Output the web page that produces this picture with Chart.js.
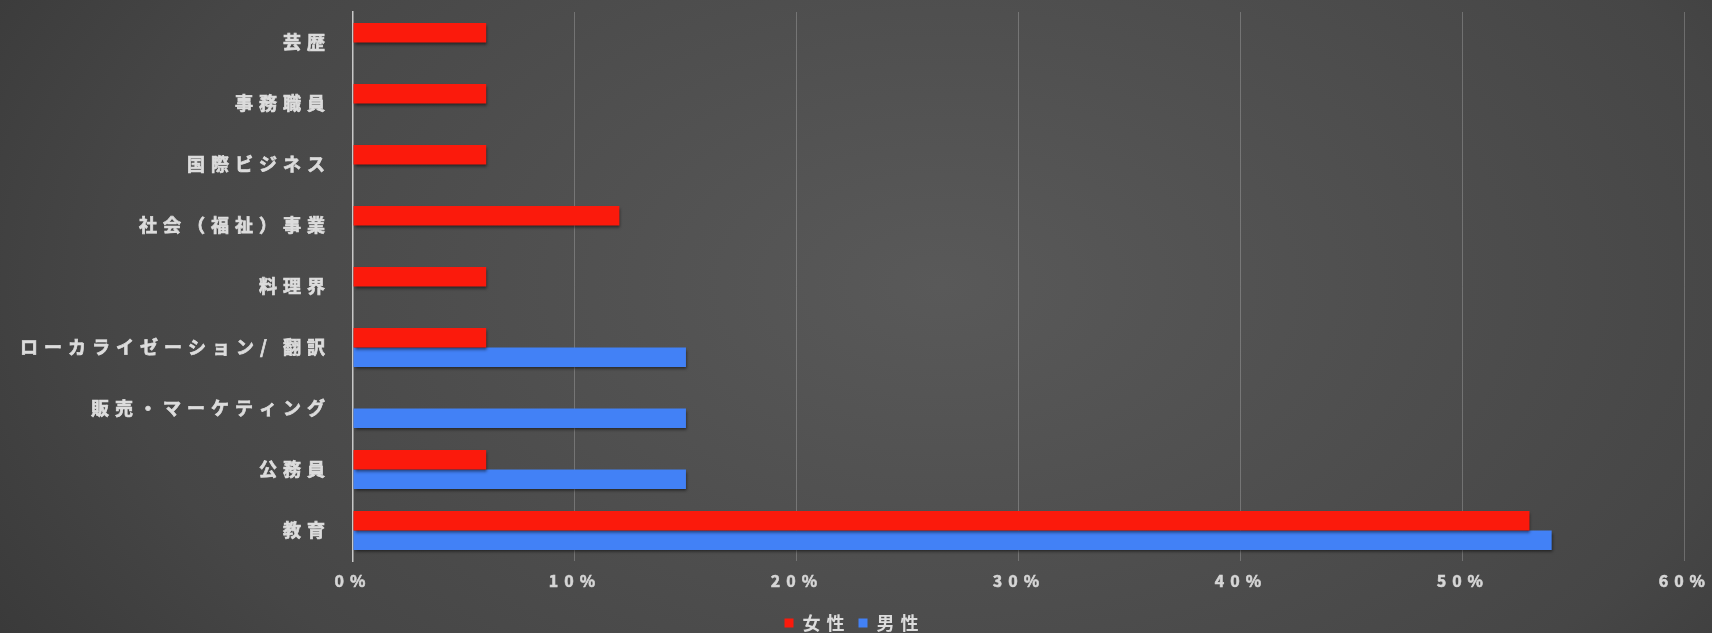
<!DOCTYPE html>
<html>
<head>
<meta charset="utf-8">
<script src="https://cdn.jsdelivr.net/npm/chart.js@4"></script>
<style>
	html, body { margin: 0; padding: 0; background: #333; }
	#wrap { width: 1712px; height: 633px; }
</style>
</head>
<body>
<div id="wrap"><canvas id="careerChart" width="1712" height="633"></canvas></div>
<script>
// 職業カテゴリー（上から順に表示）
const categories = ['芸歴', '事務職員', '国際ビジネス', '社会（福祉）事業', '料理界',
	'ローカライゼーション/ 翻訳', '販売・マーケティング', '公務員', '教育'];

// 割合 (%)
const female = [6, 6, 6, 12, 6, 6, null, 6, 53];
const male = [null, null, null, null, null, 15, 15, 15, 54];

const seriesNames = ['女性', '男性'];
const xTicks = [0, 10, 20, 30, 40, 50, 60];

const fontFamily = '"Noto Sans CJK JP", "Noto Sans", sans-serif';

// dark radial backdrop, lighter towards the middle
const backdrop = {
	id: 'backdrop',
	beforeDraw(chart) {
		const ctx = chart.ctx;
		const w = chart.width, h = chart.height;
		ctx.save();
		ctx.translate(w * 0.55, h * 0.45);
		ctx.scale(1.6, 1);
		let g = ctx.createRadialGradient(0, 0, 0, 0, 0, w * 0.55);
		g.addColorStop(0, '#595959');
		g.addColorStop(0.55, '#464646');
		g.addColorStop(1, '#272727');
		ctx.fillStyle = g;
		ctx.fillRect(-w, -h, w * 2, h * 2);
		ctx.restore();
		// wide lettering everywhere
		ctx.letterSpacing = '6px';
	}
};

// soft drop shadow under the bars
const barShadow = {
	id: 'barShadow',
	beforeDatasetsDraw(chart) {
		const ctx = chart.ctx;
		ctx.save();
		ctx.shadowColor = 'rgba(0, 0, 0, 0.55)';
		ctx.shadowBlur = 3;
		ctx.shadowOffsetX = 1;
		ctx.shadowOffsetY = 2;
	},
	afterDatasetsDraw(chart) {
		chart.ctx.restore();
	}
};

let data = {
	labels: categories,
	datasets: [{
		label: seriesNames[0],
		data: female,
		backgroundColor: '#fb1a0c',
		categoryPercentage: 0.64,
		barPercentage: 1.0
	}, {
		label: seriesNames[1],
		data: male,
		backgroundColor: '#4281f6',
		categoryPercentage: 0.64,
		barPercentage: 1.0
	}]
};

let xScaleConfig = {
	min: 0,
	max: 60,
	afterBuildTicks: (scale) => {
		scale.ticks = xTicks.map(v => ({ value: v }));
	},
	afterFit: (scale) => {
		scale.height = 45;
	},
	grid: {
		drawTicks: false,
		color: (c) => c.index === 0 ? 'rgba(0,0,0,0)' : 'rgba(255,255,255,0.22)',
		lineWidth: 1
	},
	border: { display: false },
	ticks: {
		padding: 10,
		color: '#d6d6d6',
		textStrokeColor: '#d6d6d6',
		textStrokeWidth: 0.6,
		font: { family: fontFamily, size: 16, weight: 'bold' },
		callback: (v) => v + '%'
	}
};

let yScaleConfig = {
	afterFit: (scale) => {
		scale.width = 353;
		// no extra room above/below for the label text
		scale.paddingTop = 0;
		scale.paddingBottom = 0;
	},
	grid: { display: false, drawTicks: false },
	border: { display: true, color: '#c8c8c8', width: 1.5 },
	ticks: {
		padding: 22,
		color: '#dcdcdc',
		textStrokeColor: '#dcdcdc',
		textStrokeWidth: 0.7,
		font: { family: fontFamily, size: 18, weight: 'bold' }
	}
};

let config = {
	type: 'bar',
	data: data,
	options: {
		indexAxis: 'y',
		responsive: false,
		animation: false,
		layout: {
			padding: { top: 12, right: 27, left: 0, bottom: -9 }
		},
		scales: {
			x: xScaleConfig,
			y: yScaleConfig
		},
		plugins: {
			legend: {
				position: 'bottom',
				labels: {
					boxWidth: 9,
					boxHeight: 9,
					padding: 8,
					color: '#dcdcdc',
					font: { family: fontFamily, size: 18, weight: 'bold' }
				}
			},
			tooltip: { enabled: false }
		}
	},
	plugins: [backdrop, barShadow]
};

let chart = new Chart(document.getElementById('careerChart').getContext('2d'), config);
</script>
</body>
</html>
